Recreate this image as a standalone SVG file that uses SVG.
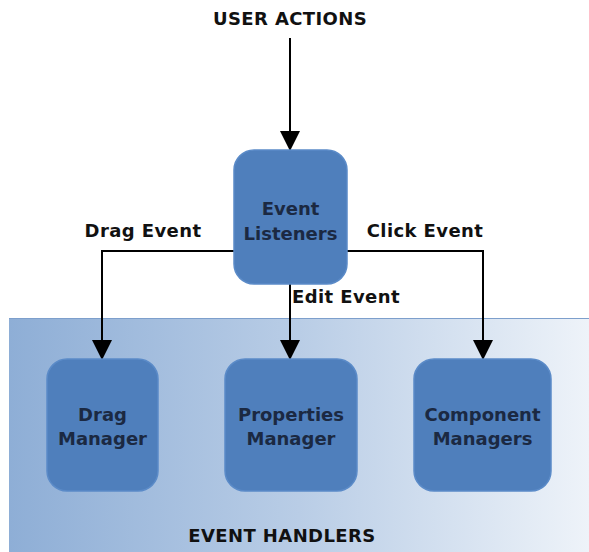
<svg xmlns="http://www.w3.org/2000/svg" width="589" height="552" viewBox="0 0 589 552">
  <defs>
    <linearGradient id="panelGrad" x1="0" y1="0" x2="1" y2="0">
      <stop offset="0" stop-color="#8eaed6"/>
      <stop offset="0.5" stop-color="#b9cde6"/>
      <stop offset="1" stop-color="#eef3f9"/>
    </linearGradient>
    <marker id="arrow" viewBox="0 0 20 20" refX="20" refY="10" markerWidth="20" markerHeight="20" markerUnits="userSpaceOnUse" orient="auto">
      <path d="M0,0 L20,10 L0,20 Z" fill="#000"/>
    </marker>
  </defs>
  <style>
    .box { fill: #4f7fbc; stroke: #5b8bc8; stroke-width: 1.5; }
    .label { font-family: "DejaVu Sans", Verdana, sans-serif; font-weight: bold; font-size: 18px; fill: #1b2942; text-anchor: middle; }
    .caption { font-family: "DejaVu Sans", Verdana, sans-serif; font-weight: bold; font-size: 18px; letter-spacing: 0.4px; fill: #111; text-anchor: middle; }
    .conn { fill: none; stroke: #000; stroke-width: 2; marker-end: url(#arrow); }
  </style>
  <rect width="589" height="552" fill="#fff"/>

  <!-- handler panel -->
  <g id="event-handlers">
    <rect x="9" y="318" width="580" height="234" fill="url(#panelGrad)"/>
    <line x1="9" y1="318.5" x2="589" y2="318.5" stroke="#7d9fcc" stroke-width="1"/>
    <text class="caption" x="282" y="542">EVENT HANDLERS</text>
  </g>

  <text class="caption" x="290" y="25">USER ACTIONS</text>

  <g id="connectors">
    <path class="conn" d="M290,38 V151"/>
    <path class="conn" d="M234,251 H102 V360"/>
    <path class="conn" d="M347,251 H483 V360"/>
    <path class="conn" d="M290,284 V360"/>
    <text class="caption" x="143" y="237">Drag Event</text>
    <text class="caption" x="425" y="237">Click Event</text>
    <text class="caption" x="346" y="303">Edit Event</text>
  </g>

  <g id="event-listeners">
    <rect class="box" x="234" y="150" width="113" height="134" rx="20"/>
    <text class="label" x="290.5" y="215">Event</text>
    <text class="label" x="290.5" y="240">Listeners</text>
  </g>

  <g id="drag-manager">
    <rect class="box" x="47" y="359" width="111" height="132" rx="20"/>
    <text class="label" x="102.5" y="421">Drag</text>
    <text class="label" x="102.5" y="445">Manager</text>
  </g>

  <g id="properties-manager">
    <rect class="box" x="225" y="359" width="132" height="132" rx="20"/>
    <text class="label" x="291" y="421">Properties</text>
    <text class="label" x="291" y="445">Manager</text>
  </g>

  <g id="component-managers">
    <rect class="box" x="414" y="359" width="137" height="132" rx="20"/>
    <text class="label" x="482.5" y="421">Component</text>
    <text class="label" x="482.5" y="445">Managers</text>
  </g>
</svg>
